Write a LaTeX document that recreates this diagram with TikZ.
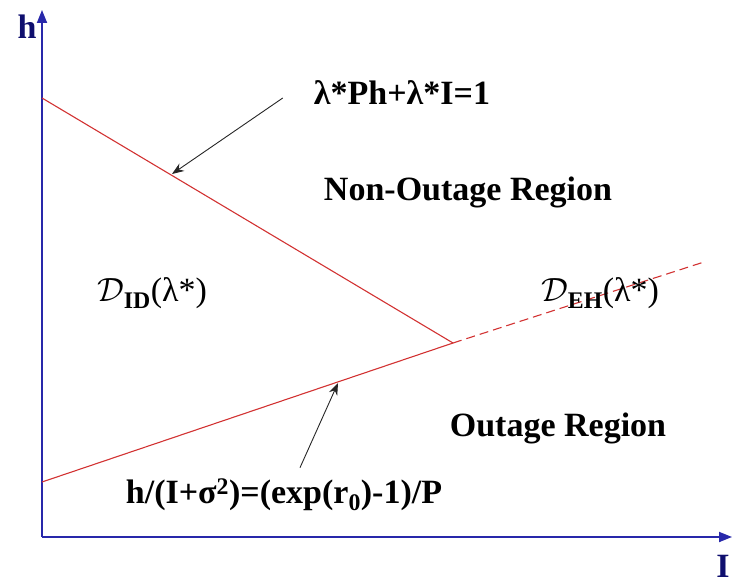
\documentclass[tikz,border=0pt]{standalone}
\usepackage{fontspec}
\setmainfont{Liberation Serif}
\usetikzlibrary{arrows.meta, positioning}
\definecolor{axisblue}{RGB}{40,40,170}
\definecolor{navyink}{RGB}{15,15,110}
\definecolor{linered}{RGB}{210,50,50}
\tikzstyle{axis} = [axisblue, line width=1.8pt, -{Triangle[length=13pt,width=10pt]}]
\tikzstyle{boundary} = [linered, line width=1.1pt]
\tikzstyle{annot} = [-{Stealth[length=12pt,width=9pt]}, black!85, line width=0.9pt]
\tikzstyle{eqlabel} = [font=\fontsize{34}{40}\selectfont\bfseries, inner sep=1pt]
\tikzstyle{regionlabel} = [font=\fontsize{34}{40}\selectfont, inner sep=1pt]
\newcommand{\regD}{\scalebox{1.35}{$\mathcal{D}$}}

\begin{document}
\begin{tikzpicture}[x=1pt, y=-1pt]
    \useasboundingbox (0,0) rectangle (733,585);
    % Axes
    \coordinate (origin) at (42,537);
    \coordinate (htop) at (42,10);
    \coordinate (iend) at (732,537);
    \draw[axis] (origin) -- (htop);
    \draw[axis] (origin) -- (iend);
    \node[eqlabel, text=navyink] (hlab) at (27,27) {h};
    \node[eqlabel, text=navyink, inner sep=0pt] (ilab) at (723,566) {I};

    % Boundaries
    \coordinate (hcut) at (42,98);
    \coordinate (knee) at (453,343);
    \coordinate (lcut) at (42,482);
    \coordinate (dashend) at (704,262);
    \draw[boundary] (hcut) -- (knee);
    \draw[boundary] (lcut) -- (knee);
    \draw[boundary, dash pattern=on 9pt off 5pt] (knee) -- (dashend);

    % Labels
    \node[eqlabel] (eqone) at (402,93) {λ*Ph+λ*I=1};
    \node[eqlabel] (eqtwo) at (284,495) {h/(I+σ\textsuperscript{2})=(exp(r\textsubscript{0})-1)/P};
    \node[eqlabel] (nonout) at (468,192) {Non-Outage Region};
    \node[eqlabel] (outage) at (558,428) {Outage Region};
    \node[regionlabel] (did) at (152,293) {\regD\textsubscript{\textbf{ID}}(λ*)};
    \node[regionlabel] (deh) at (600,293) {\regD\textsubscript{\textbf{EH}}(λ*)};

    % Annotations
    \coordinate (tipone) at (172,174);
    \coordinate (tiptwo) at (338,383);
    \draw[annot] ([xshift=-30pt,yshift=-5pt]eqone.west) -- (tipone);
    \draw[annot] ([xshift=16pt,yshift=10pt]eqtwo.north) -- (tiptwo);
\end{tikzpicture}
\end{document}
